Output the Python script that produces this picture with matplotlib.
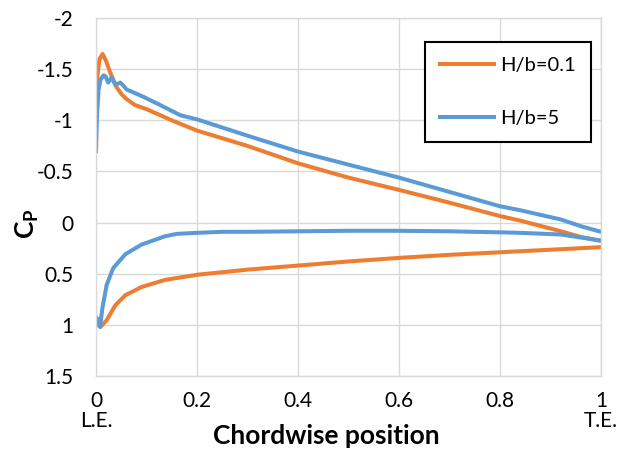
import matplotlib
matplotlib.use("Agg")
import matplotlib.pyplot as plt

plt.rcParams['font.family'] = ['Lato', 'DejaVu Sans']
plt.rcParams['mathtext.fontset'] = 'custom'
plt.rcParams['mathtext.rm'] = 'Lato'
plt.rcParams['mathtext.bf'] = 'Lato:bold'
plt.rcParams['axes.unicode_minus'] = False

# ---- pressure distributions, H/b = 0.1 ----
x_up_01 = [0, 0.003, 0.007, 0.013, 0.02, 0.028, 0.04, 0.05, 0.06, 0.077, 0.1,
           0.15, 0.2, 0.3, 0.4, 0.5, 0.6, 0.7, 0.8, 0.84, 0.92, 0.96, 1.0]
cp_up_01 = [-1.10, -1.45, -1.60, -1.65, -1.58, -1.47, -1.33, -1.26, -1.21, -1.15, -1.11,
            -1.0, -0.90, -0.75, -0.58, -0.44, -0.32, -0.195, -0.064, -0.02, 0.084, 0.14, 0.18]
x_lo_01 = [0, 0.004, 0.009, 0.021, 0.038, 0.058, 0.09, 0.137, 0.2, 0.24, 0.3,
           0.4, 0.5, 0.6, 0.7, 0.8, 0.84, 0.9, 1.0]
cp_lo_01 = [0.93, 1.0, 1.02, 0.955, 0.81, 0.71, 0.63, 0.56, 0.51, 0.49, 0.46,
            0.42, 0.38, 0.345, 0.315, 0.29, 0.28, 0.265, 0.24]

# ---- pressure distributions, H/b = 5 ----
x_up_5 = [0, 0.002, 0.005, 0.009, 0.015, 0.019, 0.024, 0.031, 0.038, 0.044, 0.048,
          0.054, 0.061, 0.071, 0.094, 0.127, 0.167, 0.2, 0.3, 0.4, 0.5, 0.6, 0.7,
          0.8, 0.841, 0.921, 0.96, 1.0]
cp_up_5 = [-0.70, -1.05, -1.30, -1.40, -1.44, -1.43, -1.37, -1.42, -1.35, -1.36, -1.37,
           -1.34, -1.30, -1.28, -1.23, -1.15, -1.05, -1.01, -0.85, -0.695, -0.567, -0.44, -0.30,
           -0.16, -0.12, -0.03, 0.035, 0.09]
x_lo_5 = [0.001, 0.003, 0.008, 0.0125, 0.021, 0.034, 0.058, 0.09, 0.137, 0.16, 0.2,
          0.25, 0.3, 0.4, 0.5, 0.6, 0.7, 0.8, 0.84, 0.92, 1.0]
cp_lo_5 = [0.95, 0.94, 1.02, 0.84, 0.61, 0.445, 0.31, 0.215, 0.133, 0.11, 0.10,
           0.09, 0.09, 0.085, 0.08, 0.08, 0.085, 0.095, 0.10, 0.116, 0.175]

x_ticks = [0, 0.2, 0.4, 0.6, 0.8, 1.0]
x_labels = ['0\nL.E.', '0.2', '0.4', '0.6', '0.8', '1\nT.E.']
y_ticks = [-2, -1.5, -1, -0.5, 0, 0.5, 1, 1.5]

c_orange = '#ED7D31'
c_blue = '#5B9BD5'

fig = plt.figure(figsize=(6.33, 4.53), dpi=100)
ax = fig.add_axes([0.1517, 0.170, 0.7977, 0.790])

lw = 2.9
ax.plot(x_up_01, cp_up_01, color=c_orange, lw=lw, label='H/b=0.1', solid_joinstyle='round')
ax.plot(x_lo_01, cp_lo_01, color=c_orange, lw=lw, solid_joinstyle='round')
ax.plot(x_up_5, cp_up_5, color=c_blue, lw=lw, label='H/b=5', solid_joinstyle='round')
ax.plot(x_lo_5, cp_lo_5, color=c_blue, lw=lw, solid_joinstyle='round')

ax.set_xlim(0, 1)
ax.set_ylim(1.5, -2)
ax.set_xticks(x_ticks)
ax.set_xticklabels(x_labels, fontsize=15, linespacing=1.0)
ax.set_yticks(y_ticks)
ax.set_yticklabels([f'{t:g}' for t in y_ticks], fontsize=15)
ax.tick_params(axis='both', length=0, colors='black')
ax.tick_params(axis='x', pad=11)
ax.tick_params(axis='y', pad=16)

ax.grid(True, color='#d9d9d9', lw=1.0)
ax.set_axisbelow(True)
for s in ax.spines.values():
    s.set_color('#d9d9d9')
    s.set_linewidth(1.0)

ax.set_xlabel('Chordwise position', fontsize=19, fontweight='bold')
ax.xaxis.set_label_coords(0.457, -0.135)
ax.set_ylabel(r'$\mathbf{C_P}$', fontsize=19)
ax.yaxis.set_label_coords(-0.108, 0.427)

leg = ax.legend(loc='upper left', bbox_to_anchor=(0.651, 0.933), fontsize=14.5,
                frameon=True, fancybox=False, framealpha=1, edgecolor='black',
                handlelength=2.7, handletextpad=0.3, labelspacing=1.75,
                borderpad=0.75, borderaxespad=0)
leg.get_frame().set_linewidth(1.5)

fig.savefig('out.png', dpi=100)
